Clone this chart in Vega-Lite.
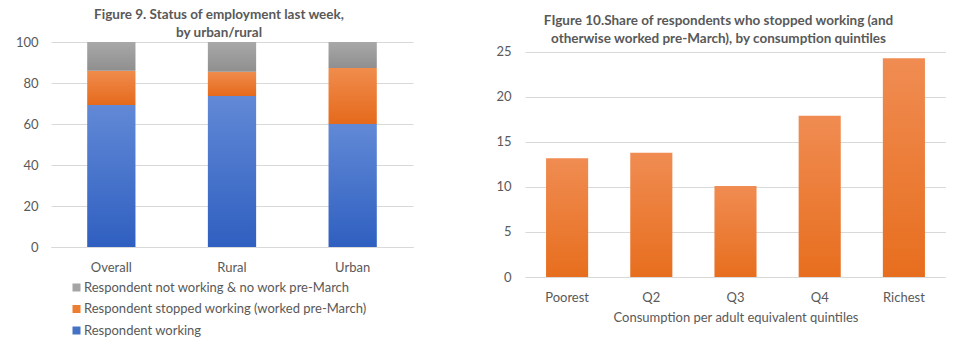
{
  "$schema": "https://vega.github.io/schema/vega-lite/v6.json",
  "background": "white",
  "padding": {"left": 15, "top": 7, "right": 0, "bottom": 0},
  "spacing": 82,
  "config": {
    "view": {"stroke": null},
    "font": "Lato",
    "axis": {
      "labelColor": "#595959",
      "labelFontSize": 13,
      "ticks": false,
      "gridColor": "#d9d9d9",
      "domainColor": "#d9d9d9",
      "titleColor": "#595959",
      "titleFontWeight": "normal",
      "titleFontSize": 13
    },
    "axisY": {"domain": false, "labelPadding": 13},
    "axisX": {"grid": false, "labelPadding": 14, "labelAngle": 0},
    "title": {
      "fontSize": 13.5,
      "fontWeight": "bold",
      "color": "#595959",
      "lineHeight": 18,
      "anchor": "middle"
    }
  },
  "hconcat": [
    {
      "title": {"text": ["Figure 9. Status of employment last week,", "by urban/rural"], "offset": -3, "dx": -13},
      "width": 362,
      "height": 205,
      "data": {
        "values": [
          {"area": "Overall", "status": "Respondent working", "value": 69.3},
          {"area": "Overall", "status": "Respondent stopped working (worked pre-March)", "value": 16.7},
          {"area": "Overall", "status": "Respondent not working & no work pre-March", "value": 14.0},
          {"area": "Rural", "status": "Respondent working", "value": 73.7},
          {"area": "Rural", "status": "Respondent stopped working (worked pre-March)", "value": 11.8},
          {"area": "Rural", "status": "Respondent not working & no work pre-March", "value": 14.5},
          {"area": "Urban", "status": "Respondent working", "value": 60.0},
          {"area": "Urban", "status": "Respondent stopped working (worked pre-March)", "value": 27.3},
          {"area": "Urban", "status": "Respondent not working & no work pre-March", "value": 12.7}
        ]
      },
      "transform": [
        {"stack": "value", "groupby": ["area"], "sort": [{"field": "status", "order": "descending"}], "as": ["y0", "y1"]}
      ],
      "encoding": {
        "x": {
          "field": "area", "type": "nominal", "title": null,
          "scale": {"paddingInner": 0.6, "paddingOuter": 0.3},
          "axis": {"domain": true}
        },
        "y": {
          "field": "y0", "type": "quantitative", "title": null,
          "scale": {"domain": [0, 100]},
          "axis": {"values": [0, 20, 40, 60, 80, 100]}
        },
        "y2": {"field": "y1"},
        "color": {
          "field": "status", "type": "nominal",
          "scale": {
            "domain": ["Respondent not working & no work pre-March", "Respondent stopped working (worked pre-March)", "Respondent working"],
            "range": ["#a5a5a5", "#ed7d31", "#4472c4"]
          },
          "legend": {
            "title": null,
            "orient": "none",
            "legendX": 19,
            "legendY": 239,
            "direction": "vertical",
            "symbolType": "square",
            "symbolSize": 64,
            "symbolStrokeWidth": 0,
            "labelFontSize": 13,
            "labelColor": "#595959",
            "labelLimit": 400,
            "rowPadding": 7.5,
            "labelOffset": 1
          }
        }
      },
      "layer": [
        {
          "transform": [{"filter": "datum.status === 'Respondent working'"}],
          "mark": {"type": "bar", "fill": {"gradient": "linear", "x1": 0, "y1": 0, "x2": 0, "y2": 1, "stops": [{"offset": 0, "color": "#6189d6"}, {"offset": 1, "color": "#2f5fc0"}]}}
        },
        {
          "transform": [{"filter": "datum.status === 'Respondent stopped working (worked pre-March)'"}],
          "mark": {"type": "bar", "fill": {"gradient": "linear", "x1": 0, "y1": 0, "x2": 0, "y2": 1, "stops": [{"offset": 0, "color": "#f08c4c"}, {"offset": 1, "color": "#e56a1c"}]}}
        },
        {
          "transform": [{"filter": "datum.status === 'Respondent not working & no work pre-March'"}],
          "mark": {"type": "bar", "fill": {"gradient": "linear", "x1": 0, "y1": 0, "x2": 0, "y2": 1, "stops": [{"offset": 0, "color": "#a8a8a8"}, {"offset": 1, "color": "#8f8f8f"}]}}
        }
      ]
    },
    {
      "title": {"text": ["FIgure 10.Share of respondents who stopped working (and", "otherwise worked pre-March), by consumption quintiles"], "offset": -3, "dx": -17},
      "width": 421,
      "height": 235,
      "data": {
        "values": [
          {"quintile": "Poorest", "share": 13.2},
          {"quintile": "Q2", "share": 13.8},
          {"quintile": "Q3", "share": 10.1},
          {"quintile": "Q4", "share": 17.9},
          {"quintile": "Richest", "share": 24.3}
        ]
      },
      "mark": {"type": "bar", "fill": {"gradient": "linear", "x1": 0, "y1": 0, "x2": 0, "y2": 1, "stops": [{"offset": 0, "color": "#f08c52"}, {"offset": 1, "color": "#e76e1e"}]}},
      "encoding": {
        "x": {
          "field": "quintile", "type": "nominal", "sort": null,
          "title": "Consumption per adult equivalent quintiles",
          "scale": {"paddingInner": 0.5, "paddingOuter": 0.25},
          "axis": {"domain": true, "titlePadding": 7}
        },
        "y": {
          "field": "share", "type": "quantitative", "title": null,
          "scale": {"domain": [0, 26.1], "nice": false},
          "axis": {"values": [0, 5, 10, 15, 20, 25], "labelPadding": 14}
        }
      }
    }
  ]
}
